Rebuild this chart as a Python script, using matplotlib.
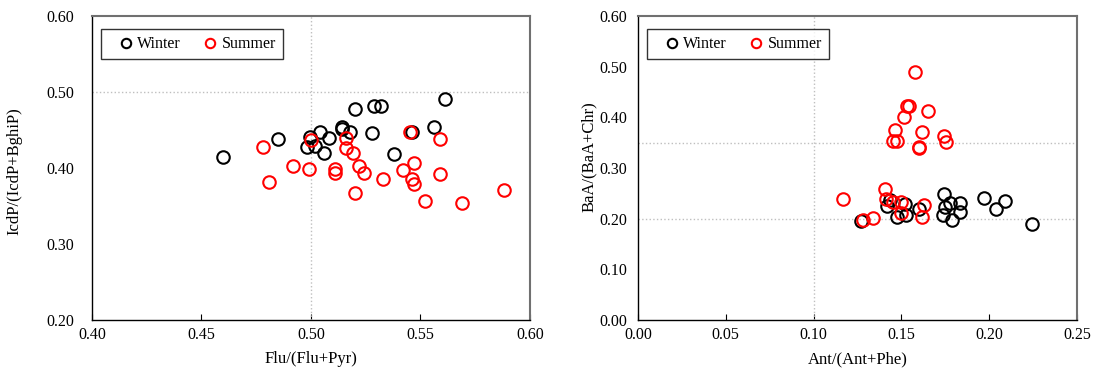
import numpy as np
import matplotlib.pyplot as plt

plt.rcParams['font.family'] = ['Liberation Serif', 'DejaVu Serif']

# Left panel: Flu/(Flu+Pyr) vs IcdP/(IcdP+BghiP)
flu_winter = [0.460, 0.485, 0.4995, 0.498, 0.502, 0.504, 0.508, 0.506, 0.514, 0.514,
              0.518, 0.520, 0.528, 0.529, 0.532, 0.561, 0.556, 0.546, 0.538]
icdp_winter = [0.415, 0.438, 0.441, 0.428, 0.429, 0.447, 0.439, 0.420, 0.454, 0.451,
               0.448, 0.477, 0.446, 0.482, 0.482, 0.491, 0.454, 0.447, 0.419]
flu_summer = [0.478, 0.481, 0.492, 0.499, 0.500, 0.516, 0.516, 0.519, 0.511, 0.511,
              0.522, 0.524, 0.520, 0.545, 0.559, 0.547, 0.542, 0.533, 0.546, 0.547,
              0.559, 0.588, 0.552, 0.569]
icdp_summer = [0.428, 0.381, 0.403, 0.399, 0.437, 0.439, 0.426, 0.420, 0.399, 0.394,
               0.403, 0.394, 0.367, 0.448, 0.438, 0.406, 0.397, 0.385, 0.385, 0.379,
               0.392, 0.371, 0.356, 0.354]

# Right panel: Ant/(Ant+Phe) vs BaA/(BaA+Chr)
ant_winter = [0.127, 0.1435, 0.1416, 0.1477, 0.1526, 0.152, 0.160, 0.174, 0.1777,
              0.1748, 0.1834, 0.1834, 0.1735, 0.179, 0.197, 0.209, 0.204, 0.2245]
baa_winter = [0.195, 0.237, 0.225, 0.204, 0.207, 0.228, 0.2185, 0.248, 0.2315,
              0.224, 0.230, 0.213, 0.207, 0.197, 0.240, 0.235, 0.2185, 0.1895]
ant_summer = [0.158, 0.153, 0.1545, 0.165, 0.1515, 0.1465, 0.162, 0.145, 0.1477,
              0.174, 0.1754, 0.160, 0.160,
              0.117, 0.1407, 0.141, 0.145, 0.150, 0.1498, 0.163, 0.1616, 0.134, 0.128]
baa_summer = [0.490, 0.422, 0.422, 0.4125, 0.401, 0.375, 0.372, 0.353, 0.353,
              0.363, 0.351, 0.342, 0.339,
              0.238, 0.258, 0.238, 0.2335, 0.2335, 0.2106, 0.227, 0.203, 0.201, 0.197]

fig = plt.figure(figsize=(10.95, 3.74), dpi=100)
ax1 = fig.add_axes([0.084, 0.1444, 0.400, 0.8128])
ax2 = fig.add_axes([0.5826, 0.1444, 0.401, 0.8128])

mk = dict(marker='o', linestyle='none', markersize=9, markerfacecolor='none',
          markeredgewidth=1.5)


def style(ax, ypad):
    for s in ['left', 'bottom']:
        ax.spines[s].set_color('black')
        ax.spines[s].set_linewidth(1.0)
    for s in ['top', 'right']:
        ax.spines[s].set_color('#707070')
        ax.spines[s].set_linewidth(1.5)
    ax.tick_params(direction='in', length=4, labelsize=11.5)
    ax.tick_params(axis='x', pad=5)
    ax.tick_params(axis='y', length=0, pad=ypad)
    leg = ax.legend(loc='upper left', ncol=2, frameon=True, fancybox=False,
                    edgecolor='black', fontsize=11.5, handletextpad=-0.4,
                    columnspacing=0.75, markerscale=0.75, borderpad=0.45,
                    borderaxespad=0, bbox_to_anchor=(0.021, 0.957),
                    handlelength=2.2)
    leg.get_frame().set_linewidth(1.0)


ax1.axvline(0.50, color='#bfbfbf', linestyle=':', linewidth=1)
ax1.axhline(0.50, color='#bfbfbf', linestyle=':', linewidth=1)
ax1.plot(flu_winter, icdp_winter, color='black', label='Winter', **mk)
ax1.plot(flu_summer, icdp_summer, color='red', label='Summer', **mk)
ax1.set_xlim(0.40, 0.60)
ax1.set_ylim(0.20, 0.60)
ax1.set_xticks(np.arange(0.40, 0.601, 0.05))
ax1.set_yticks(np.arange(0.20, 0.601, 0.10))
ax1.xaxis.set_major_formatter(plt.FormatStrFormatter('%.2f'))
ax1.yaxis.set_major_formatter(plt.FormatStrFormatter('%.2f'))
ax1.set_xlabel('Flu/(Flu+Pyr)', fontsize=12, labelpad=6)
ax1.set_ylabel('IcdP/(IcdP+BghiP)', fontsize=12)
ax1.yaxis.set_label_coords(-0.158, 0.49)
style(ax1, 13)

ax2.axvline(0.10, color='#bfbfbf', linestyle=':', linewidth=1)
ax2.axhline(0.35, color='#bfbfbf', linestyle=':', linewidth=1)
ax2.axhline(0.20, color='#bfbfbf', linestyle=':', linewidth=1)
ax2.plot(ant_winter, baa_winter, color='black', label='Winter', **mk)
ax2.plot(ant_summer, baa_summer, color='red', label='Summer', **mk)
ax2.set_xlim(0.0, 0.25)
ax2.set_ylim(0.0, 0.60)
ax2.set_xticks(np.arange(0.0, 0.251, 0.05))
ax2.set_yticks(np.arange(0.0, 0.601, 0.10))
ax2.xaxis.set_major_formatter(plt.FormatStrFormatter('%.2f'))
ax2.yaxis.set_major_formatter(plt.FormatStrFormatter('%.2f'))
ax2.set_xlabel('Ant/(Ant+Phe)', fontsize=12, labelpad=6)
ax2.set_ylabel('BaA/(BaA+Chr)', fontsize=12)
ax2.yaxis.set_label_coords(-0.094, 0.536)
style(ax2, 8)

fig.savefig('out.png', dpi=100)
